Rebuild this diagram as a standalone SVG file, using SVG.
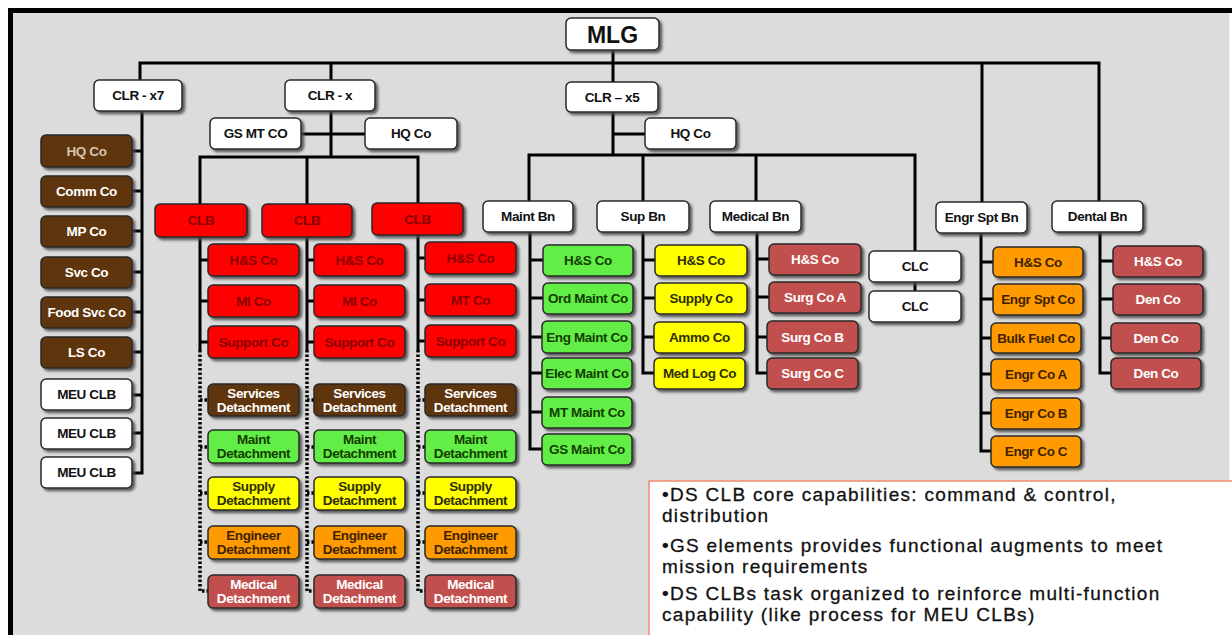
<svg xmlns="http://www.w3.org/2000/svg" width="1232" height="635" viewBox="0 0 1232 635">
<defs>
<filter id="sh" x="-10%" y="-10%" width="130%" height="140%">
<feDropShadow dx="2.5" dy="2.5" stdDeviation="1" flood-color="#4a4a4a" flood-opacity="0.85"/>
</filter>
<style>
.n rect{stroke:#2a2a2a;stroke-width:1.5;filter:url(#sh)}
.n text{font-family:"Liberation Sans",Arial,sans-serif;font-weight:bold;font-size:13.5px;text-anchor:middle;dominant-baseline:central;letter-spacing:-0.4px}
.w rect{fill:#ffffff}.w text{fill:#111}
.br rect{fill:#5e3511}.br text{fill:#ffffff}
.rd rect{fill:#ff0000}.rd text{fill:#8a0000}
.gr rect{fill:#62ee46}.gr text{fill:#123d00}
.ye rect{fill:#ffff00}.ye text{fill:#2e2e00}
.or rect{fill:#ff9a00}.or text{fill:#3d2200}
.md rect{fill:#c0504d}.md text{fill:#ffffff}
.c path{fill:none;stroke:#000;stroke-width:3}
.c .d{stroke-dasharray:2.5 2;stroke-width:3.5}
.note text{font-family:"Liberation Sans",Arial,sans-serif;font-size:19px;letter-spacing:1.3px;fill:#111;stroke:#111;stroke-width:0.3}
</style>
</defs>
<rect x="0" y="0" width="1232" height="635" fill="#ffffff"/>
<rect x="13" y="13" width="1217" height="622" fill="#dcdcdc"/>
<rect x="8" y="8" width="1224" height="5" fill="#000"/>
<rect x="8" y="8" width="5" height="627" fill="#000"/>
<line x1="1229.5" y1="13" x2="1229.5" y2="635" stroke="#eeeeee" stroke-width="1"/>

<g id="connectors" class="c">
<path d="M613 50V83"/>
<path d="M140 80V63H1099V202"/>
<path d="M331 63V80"/>
<path d="M982 63V202"/>
<path d="M142 111V473H132"/>
<path d="M132 151H142M132 191H142M132 231H142M132 272H142M132 312H142M132 352H142M132 395H142M132 433H142"/>
<path d="M331 111V157"/>
<path d="M302 134H365"/>
<path d="M200 204V157H418V203"/>
<path d="M307 157V204"/>
<path d="M200 237V350M200 260H208M200 301H208M200 342H208"/>
<path d="M307 237V350M307 260H314M307 301H314M307 342H314"/>
<path d="M418 235V350M418 258H425M418 300H425M418 341H425"/>
<path class="d" d="M200 350V591H208M200 400H208M200 447H208M200 493H208M200 542H208"/>
<path class="d" d="M307 350V591H314M307 400H314M307 447H314M307 493H314M307 542H314"/>
<path class="d" d="M418 350V591H425M418 400H425M418 447H425M418 493H425M418 542H425"/>
<path d="M613 112V155M613 134H645"/>
<path d="M529 202V155H915V251"/>
<path d="M643 155V202M756 155V202"/>
<path d="M530 232V449H543M530 260H543M530 298H543M530 337H543M530 373H543M530 412H543"/>
<path d="M643 232V373H655M643 260H655M643 298H655M643 337H655"/>
<path d="M757 232V373H769M757 259H769M757 297H769M757 337H769"/>
<path d="M915 282V291"/>
<path d="M981 233V451H993M981 262H993M981 299H993M981 338H993M981 374H993M981 413H993"/>
<path d="M1100 232V373H1113M1100 261H1113M1100 299H1113M1100 338H1113"/>
</g>

<g id="mlg" class="n w"><rect x="566" y="18" width="93" height="32" rx="5"/><text x="612.5" y="34.5" style="font-size:23px;letter-spacing:0">MLG</text></g>
<g id="clr-x7" class="n w"><rect x="94" y="80" width="88" height="31" rx="5"/><text x="138" y="95.5">CLR - x7</text></g>
<g id="clr-x" class="n w"><rect x="285" y="80" width="90" height="31" rx="5"/><text x="330" y="95.5">CLR - x</text></g>
<g id="clr-x5" class="n w"><rect x="566" y="82" width="92" height="30" rx="5"/><text x="612" y="97">CLR – x5</text></g>

<g id="l-hq" class="n br"><rect x="41" y="135" width="91" height="32" rx="5"/><text x="86.5" y="151" style="fill:#d6c4ae">HQ Co</text></g>
<g id="l-comm" class="n br"><rect x="41" y="176" width="91" height="31" rx="5"/><text x="86.5" y="191.5">Comm Co</text></g>
<g id="l-mp" class="n br"><rect x="41" y="216" width="91" height="31" rx="5"/><text x="86.5" y="231.5">MP Co</text></g>
<g id="l-svc" class="n br"><rect x="41" y="257" width="91" height="31" rx="5"/><text x="86.5" y="272.5">Svc Co</text></g>
<g id="l-food" class="n br"><rect x="41" y="297" width="91" height="31" rx="5"/><text x="86.5" y="312.5">Food Svc Co</text></g>
<g id="l-ls" class="n br"><rect x="41" y="337" width="91" height="31" rx="5"/><text x="86.5" y="352.5">LS Co</text></g>
<g id="l-meu1" class="n w"><rect x="41" y="379" width="91" height="31" rx="5"/><text x="86.5" y="394.5">MEU CLB</text></g>
<g id="l-meu2" class="n w"><rect x="41" y="418" width="91" height="31" rx="5"/><text x="86.5" y="433.5">MEU CLB</text></g>
<g id="l-meu3" class="n w"><rect x="41" y="457" width="91" height="31" rx="5"/><text x="86.5" y="472.5">MEU CLB</text></g>

<g id="gsmt" class="n w"><rect x="210" y="118" width="91" height="31" rx="5"/><text x="255.5" y="133.5">GS MT CO</text></g>
<g id="hq-x" class="n w"><rect x="365" y="118" width="92" height="31" rx="5"/><text x="411" y="133.5">HQ Co</text></g>

<g id="clb1" class="n rd"><rect x="155" y="204" width="92" height="33" rx="5"/><text x="201" y="220.5">CLB</text></g>
<g id="clb2" class="n rd"><rect x="262" y="204" width="90" height="33" rx="5"/><text x="307" y="220.5">CLB</text></g>
<g id="clb3" class="n rd"><rect x="372" y="203" width="91" height="32" rx="5"/><text x="417.5" y="219">CLB</text></g>

<g id="c1-hs" class="n rd"><rect x="208" y="244" width="91" height="32" rx="5"/><text x="253.5" y="260">H&amp;S Co</text></g>
<g id="c1-mi" class="n rd"><rect x="208" y="285" width="91" height="32" rx="5"/><text x="253.5" y="301">MI Co</text></g>
<g id="c1-sup" class="n rd"><rect x="208" y="326" width="91" height="32" rx="5"/><text x="253.5" y="342">Support Co</text></g>
<g id="c2-hs" class="n rd"><rect x="314" y="244" width="91" height="32" rx="5"/><text x="359.5" y="260">H&amp;S Co</text></g>
<g id="c2-mi" class="n rd"><rect x="314" y="285" width="91" height="32" rx="5"/><text x="359.5" y="301">MI Co</text></g>
<g id="c2-sup" class="n rd"><rect x="314" y="326" width="91" height="32" rx="5"/><text x="359.5" y="342">Support Co</text></g>
<g id="c3-hs" class="n rd"><rect x="425" y="242" width="91" height="32" rx="5"/><text x="470.5" y="258">H&amp;S Co</text></g>
<g id="c3-mt" class="n rd"><rect x="425" y="284" width="91" height="32" rx="5"/><text x="470.5" y="300">MT Co</text></g>
<g id="c3-sup" class="n rd"><rect x="425" y="325" width="91" height="32" rx="5"/><text x="470.5" y="341">Support Co</text></g>

<g id="c1-svcd" class="n br"><rect x="208" y="384" width="91" height="32" rx="5"/><text x="253.5" y="393">Services</text><text x="253.5" y="407">Detachment</text></g>
<g id="c2-svcd" class="n br"><rect x="314" y="384" width="91" height="32" rx="5"/><text x="359.5" y="393">Services</text><text x="359.5" y="407">Detachment</text></g>
<g id="c3-svcd" class="n br"><rect x="425" y="384" width="91" height="32" rx="5"/><text x="470.5" y="393">Services</text><text x="470.5" y="407">Detachment</text></g>
<g id="c1-mntd" class="n gr"><rect x="208" y="430" width="91" height="33" rx="5"/><text x="253.5" y="439">Maint</text><text x="253.5" y="453">Detachment</text></g>
<g id="c2-mntd" class="n gr"><rect x="314" y="430" width="91" height="33" rx="5"/><text x="359.5" y="439">Maint</text><text x="359.5" y="453">Detachment</text></g>
<g id="c3-mntd" class="n gr"><rect x="425" y="430" width="91" height="33" rx="5"/><text x="470.5" y="439">Maint</text><text x="470.5" y="453">Detachment</text></g>
<g id="c1-supd" class="n ye"><rect x="208" y="477" width="91" height="33" rx="5"/><text x="253.5" y="486">Supply</text><text x="253.5" y="500">Detachment</text></g>
<g id="c2-supd" class="n ye"><rect x="314" y="477" width="91" height="33" rx="5"/><text x="359.5" y="486">Supply</text><text x="359.5" y="500">Detachment</text></g>
<g id="c3-supd" class="n ye"><rect x="425" y="477" width="91" height="33" rx="5"/><text x="470.5" y="486">Supply</text><text x="470.5" y="500">Detachment</text></g>
<g id="c1-engd" class="n or"><rect x="208" y="526" width="91" height="33" rx="5"/><text x="253.5" y="535">Engineer</text><text x="253.5" y="549">Detachment</text></g>
<g id="c2-engd" class="n or"><rect x="314" y="526" width="91" height="33" rx="5"/><text x="359.5" y="535">Engineer</text><text x="359.5" y="549">Detachment</text></g>
<g id="c3-engd" class="n or"><rect x="425" y="526" width="91" height="33" rx="5"/><text x="470.5" y="535">Engineer</text><text x="470.5" y="549">Detachment</text></g>
<g id="c1-medd" class="n md"><rect x="208" y="575" width="91" height="33" rx="5"/><text x="253.5" y="584">Medical</text><text x="253.5" y="598">Detachment</text></g>
<g id="c2-medd" class="n md"><rect x="314" y="575" width="91" height="33" rx="5"/><text x="359.5" y="584">Medical</text><text x="359.5" y="598">Detachment</text></g>
<g id="c3-medd" class="n md"><rect x="425" y="575" width="91" height="33" rx="5"/><text x="470.5" y="584">Medical</text><text x="470.5" y="598">Detachment</text></g>

<g id="hq-x5" class="n w"><rect x="645" y="118" width="91" height="31" rx="5"/><text x="690.5" y="133.5">HQ Co</text></g>
<g id="maintbn" class="n w"><rect x="483" y="201" width="90" height="31" rx="5"/><text x="528" y="216.5">Maint Bn</text></g>
<g id="supbn" class="n w"><rect x="597" y="201" width="92" height="31" rx="5"/><text x="643" y="216.5">Sup Bn</text></g>
<g id="medbn" class="n w"><rect x="710" y="201" width="91" height="31" rx="5"/><text x="755.5" y="216.5">Medical Bn</text></g>
<g id="engrbn" class="n w"><rect x="936" y="202" width="91" height="31" rx="5"/><text x="981.5" y="217.5">Engr Spt Bn</text></g>
<g id="dentalbn" class="n w"><rect x="1052" y="201" width="91" height="31" rx="5"/><text x="1097.5" y="216.5">Dental Bn</text></g>

<g id="m-hs" class="n gr"><rect x="543" y="245" width="90" height="31" rx="5"/><text x="588" y="260.5">H&amp;S Co</text></g>
<g id="m-ord" class="n gr"><rect x="543" y="283" width="90" height="31" rx="5"/><text x="588" y="298.5">Ord Maint Co</text></g>
<g id="m-eng" class="n gr"><rect x="542" y="321" width="90" height="32" rx="5"/><text x="587" y="337">Eng Maint Co</text></g>
<g id="m-elec" class="n gr"><rect x="542" y="358" width="90" height="31" rx="5"/><text x="587" y="373.5">Elec Maint Co</text></g>
<g id="m-mt" class="n gr"><rect x="542" y="397" width="90" height="31" rx="5"/><text x="587" y="412.5">MT Maint Co</text></g>
<g id="m-gs" class="n gr"><rect x="542" y="434" width="90" height="31" rx="5"/><text x="587" y="449.5">GS Maint Co</text></g>

<g id="s-hs" class="n ye"><rect x="655" y="245" width="92" height="31" rx="5"/><text x="701" y="260.5">H&amp;S Co</text></g>
<g id="s-sup" class="n ye"><rect x="655" y="283" width="92" height="31" rx="5"/><text x="701" y="298.5">Supply Co</text></g>
<g id="s-ammo" class="n ye"><rect x="654" y="322" width="91" height="31" rx="5"/><text x="699.5" y="337.5">Ammo Co</text></g>
<g id="s-medlog" class="n ye"><rect x="654" y="358" width="91" height="31" rx="5"/><text x="699.5" y="373.5">Med Log Co</text></g>

<g id="d-hs" class="n md"><rect x="769" y="244" width="92" height="31" rx="5"/><text x="815" y="259.5">H&amp;S Co</text></g>
<g id="d-sa" class="n md"><rect x="769" y="282" width="92" height="31" rx="5"/><text x="815" y="297.5">Surg Co A</text></g>
<g id="d-sb" class="n md"><rect x="767" y="321" width="91" height="32" rx="5"/><text x="812.5" y="337">Surg Co B</text></g>
<g id="d-sc" class="n md"><rect x="767" y="358" width="91" height="31" rx="5"/><text x="812.5" y="373.5">Surg Co C</text></g>

<g id="clc1" class="n w"><rect x="869" y="251" width="92" height="31" rx="5"/><text x="915" y="266.5">CLC</text></g>
<g id="clc2" class="n w"><rect x="869" y="291" width="92" height="31" rx="5"/><text x="915" y="306.5">CLC</text></g>

<g id="e-hs" class="n or"><rect x="993" y="247" width="90" height="30" rx="5"/><text x="1038" y="262">H&amp;S Co</text></g>
<g id="e-spt" class="n or"><rect x="993" y="284" width="90" height="31" rx="5"/><text x="1038" y="299.5">Engr Spt Co</text></g>
<g id="e-bulk" class="n or"><rect x="991" y="323" width="90" height="30" rx="5"/><text x="1036" y="338">Bulk Fuel Co</text></g>
<g id="e-a" class="n or"><rect x="991" y="359" width="90" height="31" rx="5"/><text x="1036" y="374.5">Engr Co A</text></g>
<g id="e-b" class="n or"><rect x="991" y="398" width="90" height="31" rx="5"/><text x="1036" y="413.5">Engr Co B</text></g>
<g id="e-c" class="n or"><rect x="991" y="436" width="90" height="31" rx="5"/><text x="1036" y="451.5">Engr Co C</text></g>

<g id="dn-hs" class="n md"><rect x="1113" y="246" width="90" height="31" rx="5"/><text x="1158" y="261.5">H&amp;S Co</text></g>
<g id="dn-1" class="n md"><rect x="1113" y="284" width="90" height="31" rx="5"/><text x="1158" y="299.5">Den Co</text></g>
<g id="dn-2" class="n md"><rect x="1111" y="323" width="90" height="30" rx="5"/><text x="1156" y="338">Den Co</text></g>
<g id="dn-3" class="n md"><rect x="1111" y="358" width="90" height="31" rx="5"/><text x="1156" y="373.5">Den Co</text></g>

<g id="note" class="note">
<rect x="649" y="481" width="590" height="160" fill="#ffffff" stroke="#f08a6a" stroke-width="1.5"/>
<text x="662" y="501">•DS CLB core capabilities: command &amp; control,</text>
<text x="662" y="522">distribution</text>
<text x="662" y="552">•GS elements provides functional augments to meet</text>
<text x="662" y="573">mission requirements</text>
<text x="662" y="600">•DS CLBs task organized to reinforce multi-function</text>
<text x="662" y="621">capability (like process for MEU CLBs)</text>
</g>
</svg>
